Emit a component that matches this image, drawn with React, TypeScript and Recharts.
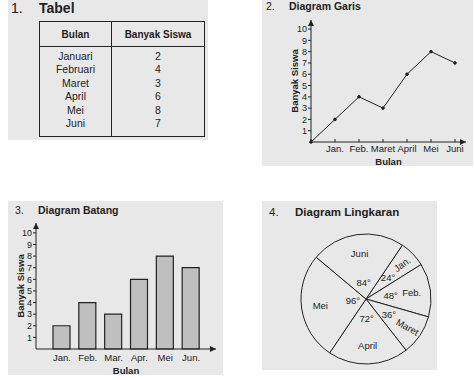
import React from 'react';
import { LineChart, Line, BarChart, Bar, PieChart, Pie, Cell, XAxis, YAxis, Label } from 'recharts';

// data
const months = ['Januari', 'Februari', 'Maret', 'April', 'Mei', 'Juni'];
const students = [2, 4, 3, 6, 8, 7];
const lineLabels = ['', 'Jan.', 'Feb.', 'Maret', 'April', 'Mei', 'Juni'];
const lineValues = [0, 2, 4, 3, 6, 8, 7];
const barLabels = ['Jan.', 'Feb.', 'Mar.', 'Apr.', 'Mei', 'Jun.'];
const pieLabels = ['Jan.', 'Feb.', 'Maret', 'April', 'Mei', 'Juni'];
const pieDegrees = ['24°', '48°', '36°', '72°', '96°', '84°'];
const yTicks = [1, 2, 3, 4, 5, 6, 7, 8, 9, 10];

const FONT = '"Liberation Sans", Arial, Helvetica, sans-serif';
const INK = '#222';
const PANEL = '#e8e8e8';
const RADIAN = Math.PI / 180;

const lineData = lineLabels.map((m, i) => ({ month: m, siswa: lineValues[i] }));
const barData = barLabels.map((m, i) => ({ month: m, siswa: students[i] }));
const pieData = pieLabels.map((m, i) => ({ name: m, value: students[i], deg: pieDegrees[i] }));

const tickStyle = { fontSize: 9.5, fill: INK, fontFamily: FONT };

const Title: React.FC<{ num: string; text: string; x: number; y: number; numGap: number; size: number }> = ({ num, text, x, y, numGap, size }) => (
    <div style={{ position: 'absolute', left: x, top: y, fontSize: size, color: INK, whiteSpace: 'nowrap', lineHeight: 1 }}>
        <span>{num}</span>
        <span style={{ position: 'absolute', left: numGap, fontWeight: 'bold' }}>{text}</span>
    </div>
);

const YTitle = (props: any) => {
    const { viewBox, x0 } = props;
    const cy = viewBox.y + viewBox.height / 2;
    return (
        <text x={x0} y={cy} transform={`rotate(-90, ${x0}, ${cy})`} textAnchor="middle" dominantBaseline="central"
            fontSize={9.5} fontWeight="bold" fill={INK} fontFamily={FONT}>
            Banyak Siswa
        </text>
    );
};

const Arrow: React.FC<{ id: string }> = ({ id }) => (
    <defs>
        <marker id={id} viewBox="0 0 10 10" refX="10" refY="5" markerWidth="6" markerHeight="6"
            markerUnits="userSpaceOnUse" orient="auto-start-reverse">
            <path d="M0,0 L10,5 L0,10 z" fill={INK} />
        </marker>
    </defs>
);

const renderPieLabel = (props: any) => {
    const { cx, cy, midAngle, outerRadius, startAngle, endAngle, index } = props;
    const span = Math.abs(endAngle - startAngle);
    const cos = Math.cos(-midAngle * RADIAN);
    const sin = Math.sin(-midAngle * RADIAN);
    // thin slices get their name turned along the radius and pushed outward
    const thin = span < 40;
    const rName = outerRadius * (thin ? 0.77 : 0.71);
    const rDeg = outerRadius * (0.56 - 0.0037 * span);
    const nx = cx + rName * cos;
    const ny = cy + rName * sin;
    const dx = cx + rDeg * cos;
    const dy = cy + rDeg * sin;
    const rot = thin ? -midAngle * 0.85 : 0;
    return (
        <g>
            <text x={nx} y={ny} transform={`rotate(${rot}, ${nx}, ${ny})`} textAnchor="middle" dominantBaseline="central"
                fontSize={9.5} fill={INK} fontFamily={FONT}>
                {pieData[index].name}
            </text>
            <text x={dx} y={dy} textAnchor="middle" dominantBaseline="central" fontSize={9.5} fill={INK} fontFamily={FONT}>
                {pieData[index].deg}
            </text>
        </g>
    );
};

const cellStyle: React.CSSProperties = { border: `1.5px solid ${INK}`, textAlign: 'center', padding: 0 };

export default function App() {
    return (
        <div style={{ position: 'absolute', left: 0, top: 0, width: 474, height: 380, background: '#fff', fontFamily: FONT, overflow: 'hidden' }}>
            {/* 1. Tabel */}
            <div style={{ position: 'absolute', left: 8, top: 0, width: 200, height: 140, background: PANEL }} />
            <Title num="1." text="Tabel" x={11} y={1} numGap={28} size={14} />
            <table style={{ position: 'absolute', left: 39, top: 21, width: 166, height: 116, borderCollapse: 'collapse', tableLayout: 'fixed', fontFamily: FONT, color: INK }}>
                <colgroup>
                    <col style={{ width: 72 }} />
                    <col />
                </colgroup>
                <thead>
                    <tr style={{ height: 25 }}>
                        <th style={{ ...cellStyle, fontSize: 10 }}>Bulan</th>
                        <th style={{ ...cellStyle, fontSize: 10 }}>Banyak Siswa</th>
                    </tr>
                </thead>
                <tbody>
                    <tr>
                        <td style={{ ...cellStyle, verticalAlign: 'top', paddingTop: 3, fontSize: 10.5, lineHeight: '13.4px' }}>
                            {months.map(m => <div key={m}>{m}</div>)}
                        </td>
                        <td style={{ ...cellStyle, verticalAlign: 'top', paddingTop: 3, fontSize: 10.5, lineHeight: '13.4px' }}>
                            {students.map((s, i) => <div key={i}>{s}</div>)}
                        </td>
                    </tr>
                </tbody>
            </table>

            {/* 2. Diagram Garis */}
            <div style={{ position: 'absolute', left: 262, top: 0, width: 211, height: 166, background: PANEL }} />
            <div style={{ position: 'absolute', left: 262, top: 0 }}>
                <LineChart width={211} height={166} data={lineData} margin={{ top: 20, right: 7, bottom: 0, left: 19 }}>
                    <Arrow id="arrowLine" />
                    <XAxis dataKey="month" height={24} interval={0} padding={{ left: 0, right: 11 }}
                        tick={tickStyle} tickSize={-3} tickMargin={6}
                        axisLine={{ stroke: INK, markerEnd: 'url(#arrowLine)' }} tickLine={{ stroke: INK }}>
                        <Label value="Bulan" position="insideBottom" offset={1} style={{ fontSize: 9.5, fontWeight: 'bold', fill: INK, fontFamily: FONT }} />
                    </XAxis>
                    <YAxis type="number" width={30} domain={[0, 10.8]} ticks={yTicks} interval={0}
                        tick={{ ...tickStyle, fontSize: 9 }} tickSize={3} tickMargin={1}
                        axisLine={{ stroke: INK, markerStart: 'url(#arrowLine)' }} tickLine={{ stroke: INK }}
                        label={(p: any) => <YTitle {...p} x0={32} />} />
                    <Line type="linear" dataKey="siswa" stroke={INK} strokeWidth={1}
                        dot={{ r: 1.3, fill: INK, stroke: INK }} isAnimationActive={false} />
                </LineChart>
            </div>
            <Title num="2." text="Diagram Garis" x={266} y={1} numGap={23} size={10.5} />

            {/* 3. Diagram Batang */}
            <div style={{ position: 'absolute', left: 8, top: 201, width: 215, height: 174, background: PANEL }} />
            <div style={{ position: 'absolute', left: 8, top: 201 }}>
                <BarChart width={215} height={174} data={barData} margin={{ top: 22, right: 7, bottom: 0, left: 10 }}>
                    <Arrow id="arrowBar" />
                    <XAxis dataKey="month" height={26} interval={0} padding={{ left: 13, right: 12 }}
                        tick={tickStyle} tickSize={3} tickLine={false} tickMargin={2}
                        axisLine={{ stroke: INK, markerEnd: 'url(#arrowBar)' }}>
                        <Label value="Bulan" position="insideBottom" offset={1} style={{ fontSize: 9.5, fontWeight: 'bold', fill: INK, fontFamily: FONT }} />
                    </XAxis>
                    <YAxis type="number" width={18} domain={[0, 10.85]} ticks={yTicks} interval={0}
                        tick={{ ...tickStyle, fontSize: 9 }} tickSize={3} tickMargin={1}
                        axisLine={{ stroke: INK, markerStart: 'url(#arrowBar)' }} tickLine={{ stroke: INK }}
                        label={(p: any) => <YTitle {...p} x0={12} />} />
                    <Bar dataKey="siswa" barSize={17} fill="#bfbfbf" stroke={INK} strokeWidth={1.2} isAnimationActive={false} />
                </BarChart>
            </div>
            <Title num="3." text="Diagram Batang" x={15} y={205} numGap={23} size={10.5} />

            {/* 4. Diagram Lingkaran */}
            <div style={{ position: 'absolute', left: 262, top: 201, width: 175, height: 169, background: PANEL }} />
            <div style={{ position: 'absolute', left: 262, top: 201 }}>
                <PieChart width={175} height={169}>
                    <Pie data={pieData} dataKey="value" nameKey="name" cx={99} cy={93} outerRadius={65}
                        startAngle={56} endAngle={-304} label={renderPieLabel} labelLine={false}
                        isAnimationActive={false}>
                        {pieData.map(d => (
                            <Cell key={d.name} fill={PANEL} stroke={INK} strokeWidth={1} />
                        ))}
                    </Pie>
                </PieChart>
            </div>
            <Title num="4." text="Diagram Lingkaran" x={269} y={207} numGap={26} size={11.5} />
        </div>
    );
}
